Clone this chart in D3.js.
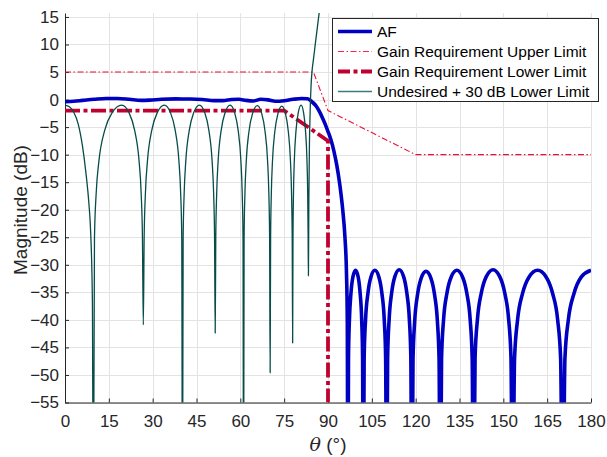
<!DOCTYPE html>
<html lang="en">
<head>
<meta charset="utf-8">
<title>Array factor vs gain requirement</title>
<script src="https://d3js.org/d3.v7.min.js"></script>
<style>
body { margin: 0; background: #fff; }
svg { font-family: "Liberation Sans", Arial, sans-serif; }
.tick text { fill: #262626; font-size: 17px; }
.tick line { stroke: #262626; }
.domain { stroke: #262626; }
.grid line { stroke: #e3e3e3; }
.legendText { font-size: 15.5px; fill: #000; }
</style>
</head>
<body>
<div id="chart"></div>
<script>
var width = 607;
var height = 457;

// tick values
var thetaTicks = [0, 15, 30, 45, 60, 75, 90, 105, 120, 135, 150, 165, 180];
var dbTicks = [15, 10, 5, 0, -5, -10, -15, -20, -25, -30, -35, -40, -45, -50, -55];

// series, [theta (deg), magnitude (dB)]
var afCurve = [
    [0,-0.4],[3,-0.3],[6,-0.15],[10,0.05],[14,0.2],[18,0.2],[22,0.05],[26,-0.15],[29,-0.1],[33,0.05],
    [38,0.12],[43,0.1],[47,0.0],[51,-0.2],[54,-0.2],[57,0.0],[59.5,0.05],[62,-0.15],[64.5,-0.25],[67,0.05],
    [69.5,-0.05],[72,-0.3],[75,-0.2],[78,0.05],[81,0.2],[83,0.15],[84.5,-0.4],[86,-1.2],[87,-2.1],[88,-3.2],
    [89,-4.4],[90,-5.8],[91,-7.3],[92,-9.3],[93,-11.9],[94,-15.3],[95,-19.8],[95.8,-25],[96.3,-31],[96.6,-40],[96.8,-80],
    [97.01,-47],[97.33,-40],[97.85,-35.2],[98.53,-32.2],[99.43,-31],[100.32,-32.2],[101.0,-35.2],[101.53,-40],[101.84,-47],[102.05,-80],
    [102.37,-47],[102.85,-40],[103.65,-35.2],[104.69,-32.2],[106.05,-31],[107.41,-32.2],[108.45,-35.2],[109.25,-40],[109.73,-47],[110.05,-80],
    [110.4,-46.9],[110.92,-39.9],[111.78,-35.1],[112.9,-32.1],[114.38,-30.9],[115.85,-32.1],[116.97,-35.1],[117.84,-39.9],[118.35,-46.9],[118.7,-80],
    [119.09,-47.2],[119.67,-40.2],[120.64,-35.4],[121.9,-32.4],[123.55,-31.2],[125.2,-32.4],[126.46,-35.4],[127.43,-40.2],[128.01,-47.2],[128.4,-80],
    [128.86,-47],[129.54,-40],[130.68,-35.2],[132.16,-32.2],[134.1,-31],[136.04,-32.2],[137.52,-35.2],[138.66,-40],[139.34,-47],[139.8,-80],
    [140.33,-46.9],[141.14,-39.9],[142.47,-35.1],[144.21,-32.1],[146.48,-30.9],[148.74,-32.1],[150.48,-35.1],[151.82,-39.9],[152.62,-46.9],[153.15,-80],
    [153.84,-47],[154.87,-40],[156.58,-35.2],[158.81,-32.2],[161.73,-31],[164.64,-32.2],[166.87,-35.2],[168.59,-40],[169.61,-47],[170.3,-80],
    [171.08,-47],[172.24,-40],[174.18,-35.2],[176.7,-32.2],[180,-31]
];

var undesiredCurve = [
    [0,-1.0],[1.5,-1.3],[3,-2.3],[4.5,-4.4],[6,-8.5],[7.2,-13.5],[8.2,-19],[8.8,-24.3],[9.37,-36.4],[9.7,-80],
    [10.09,-25],[10.67,-17],[11.64,-11],[13.58,-5.6],[16.1,-2.4],[19.4,-1.0],[21.92,-2.4],[23.84,-5.6],[25.32,-11],[26.06,-17],[26.5,-25],[26.8,-40.9],
    [27.09,-25],[27.52,-17],[28.24,-11],[29.68,-5.6],[31.55,-2.4],[34,-1.0],[36.11,-2.4],[37.72,-5.6],[38.96,-11],[39.58,-17],[39.95,-25],[40.2,-80],
    [40.43,-25],[40.78,-17],[41.36,-11],[42.52,-5.6],[44.03,-2.4],[46,-1.0],[47.84,-2.4],[49.24,-5.6],[50.32,-11],[50.86,-17],[51.18,-25],[51.4,-42.4],
    [51.6,-25],[51.91,-17],[52.42,-11],[53.44,-5.6],[54.77,-2.4],[56.5,-1.0],[58.06,-2.4],[59.26,-5.6],[60.18,-11],[60.64,-17],[60.92,-25],[61.1,-80],
    [61.29,-25.1],[61.57,-17.1],[62.04,-11.1],[62.98,-5.7],[64.2,-2.5],[65.8,-1.1],[67.3,-2.5],[68.44,-5.7],[69.32,-11.1],[69.76,-17.1],[70.02,-25.1],[70.2,-49.6],
    [70.36,-25.2],[70.6,-17.2],[71.0,-11.2],[71.8,-5.8],[72.84,-2.6],[74.2,-1.2],[75.46,-2.6],[76.42,-5.8],[77.16,-11.2],[77.53,-17.2],[77.75,-25.2],[77.9,-44.2],
    [78.02,-25],[78.19,-17],[78.48,-11],[79.06,-5.6],[79.81,-2.4],[80.8,-1.0],[81.65,-2.4],[82.3,-5.6],[82.8,-11],[83.05,-17],[83.2,-25],[83.3,-32],
    [83.45,-18],[83.65,-8],[83.9,-2],[84.2,2.5],[84.6,5.5],[85,7.2],[85.7,10.3],[86.4,13.3],[87,15.8],[87.5,17.5]
];

var upperLimit = [[0,5],[85,5],[90,-2],[120,-10],[180,-10]];
var lowerLimit = [[0,-2],[75,-2],[90,-7.5],[90,-55]];

var legendLabels = ["AF", "Gain Requirement Upper Limit", "Gain Requirement Lower Limit", "Undesired + 30 dB Lower Limit"];

// plot area
var plotLeft = 65, plotRight = 591, plotTop = 13.1, plotBottom = 402.5;

var svg = d3.select("#chart")
    .append("svg")
    .attr("width", width)
    .attr("height", height);

var x = d3.scaleLinear().domain([0, 180]).range([plotLeft, plotRight]);
var y = d3.scaleLinear().domain([-55, 15.7]).range([plotBottom, plotTop]);

svg.append("defs").append("clipPath").attr("id", "plotClip")
    .append("rect")
    .attr("x", plotLeft).attr("y", plotTop)
    .attr("width", plotRight - plotLeft).attr("height", plotBottom - plotTop);

// grid
var grid = svg.append("g").attr("class", "grid");
grid.selectAll(".vgrid").data(thetaTicks).enter().append("line")
    .attr("x1", d => Math.round(x(d)) + 0.5).attr("x2", d => Math.round(x(d)) + 0.5)
    .attr("y1", plotTop).attr("y2", plotBottom);
grid.selectAll(".hgrid").data(dbTicks).enter().append("line")
    .attr("x1", plotLeft).attr("x2", plotRight)
    .attr("y1", d => Math.round(y(d)) + 0.5).attr("y2", d => Math.round(y(d)) + 0.5);

// axes, ticks pointing inward like matlab
svg.append("g")
    .attr("transform", "translate(0," + plotBottom + ")")
    .call(d3.axisBottom(x).tickValues(thetaTicks).tickSize(-4).tickSizeOuter(0).tickPadding(12))
    .call(g => g.selectAll(".tick text").attr("dy", "0.71em"));

svg.append("g")
    .attr("transform", "translate(" + plotLeft + ",0)")
    .call(d3.axisLeft(y).tickValues(dbTicks).tickSize(-4).tickSizeOuter(0).tickPadding(6));

svg.selectAll(".domain").attr("stroke-width", 1);

// curves
var curveLine = d3.line()
    .x(d => x(d[0]))
    .y(d => y(d[1]))
    .curve(d3.curveMonotoneX);

var limitLine = d3.line()
    .x(d => x(d[0]))
    .y(d => y(d[1]));

var plot = svg.append("g").attr("clip-path", "url(#plotClip)");

plot.append("path")
    .datum(upperLimit)
    .attr("d", limitLine)
    .attr("fill", "none")
    .attr("stroke", "#ea0f37")
    .attr("stroke-width", 1.1)
    .attr("stroke-dasharray", "6,2.5,1.5,2.5");

plot.append("path")
    .datum(afCurve)
    .attr("d", curveLine)
    .attr("fill", "none")
    .attr("stroke", "#0000c0")
    .attr("stroke-width", 3.6)
    .attr("stroke-linejoin", "round");

plot.append("path")
    .datum(lowerLimit)
    .attr("d", limitLine)
    .attr("fill", "none")
    .attr("stroke", "#c0002e")
    .attr("stroke-width", 3.8)
    .attr("stroke-dasharray", "15,3.5,4,3.5");

plot.append("path")
    .datum(undesiredCurve)
    .attr("d", curveLine)
    .attr("fill", "none")
    .attr("stroke", "#064c4a")
    .attr("stroke-width", 1.3)
    .attr("stroke-linejoin", "round");

// axis labels
svg.append("text")
    .attr("transform", "translate(27,210) rotate(-90)")
    .attr("text-anchor", "middle")
    .style("font-size", "19px")
    .attr("fill", "#262626")
    .text("Magnitude (dB)");

var xlab = svg.append("text")
    .attr("x", x(90))
    .attr("y", 451)
    .attr("text-anchor", "middle")
    .style("font-size", "19px")
    .attr("fill", "#262626");
xlab.append("tspan").style("font-style", "italic").style("font-family", "'DejaVu Serif', serif").text("\u03b8");
xlab.append("tspan").text(" (\u00b0)");

// legend
var legend = svg.append("g").attr("class", "legend");
legend.append("rect")
    .attr("x", 332.5).attr("y", 18.5)
    .attr("width", 266).attr("height", 83)
    .attr("fill", "#fff")
    .attr("stroke", "#262626")
    .attr("stroke-width", 1);

var legendStyles = [
    { stroke: "#0000c0", width: 3.6, dash: null },
    { stroke: "#f0284f", width: 1.2, dash: "6,2.5,1.5,2.5" },
    { stroke: "#c0002e", width: 3.8, dash: "12,3.5,4,3.5" },
    { stroke: "#3d7a78", width: 1.3, dash: null }
];

legendLabels.forEach(function(label, i) {
    var cy = 31.5 + i * 20;
    legend.append("line")
        .attr("x1", 338).attr("x2", 372)
        .attr("y1", cy).attr("y2", cy)
        .attr("stroke", legendStyles[i].stroke)
        .attr("stroke-width", legendStyles[i].width)
        .attr("stroke-dasharray", legendStyles[i].dash);
    legend.append("text")
        .attr("class", "legendText")
        .attr("x", 377)
        .attr("y", cy + 5.4)
        .text(label);
});
</script>
</body>
</html>
